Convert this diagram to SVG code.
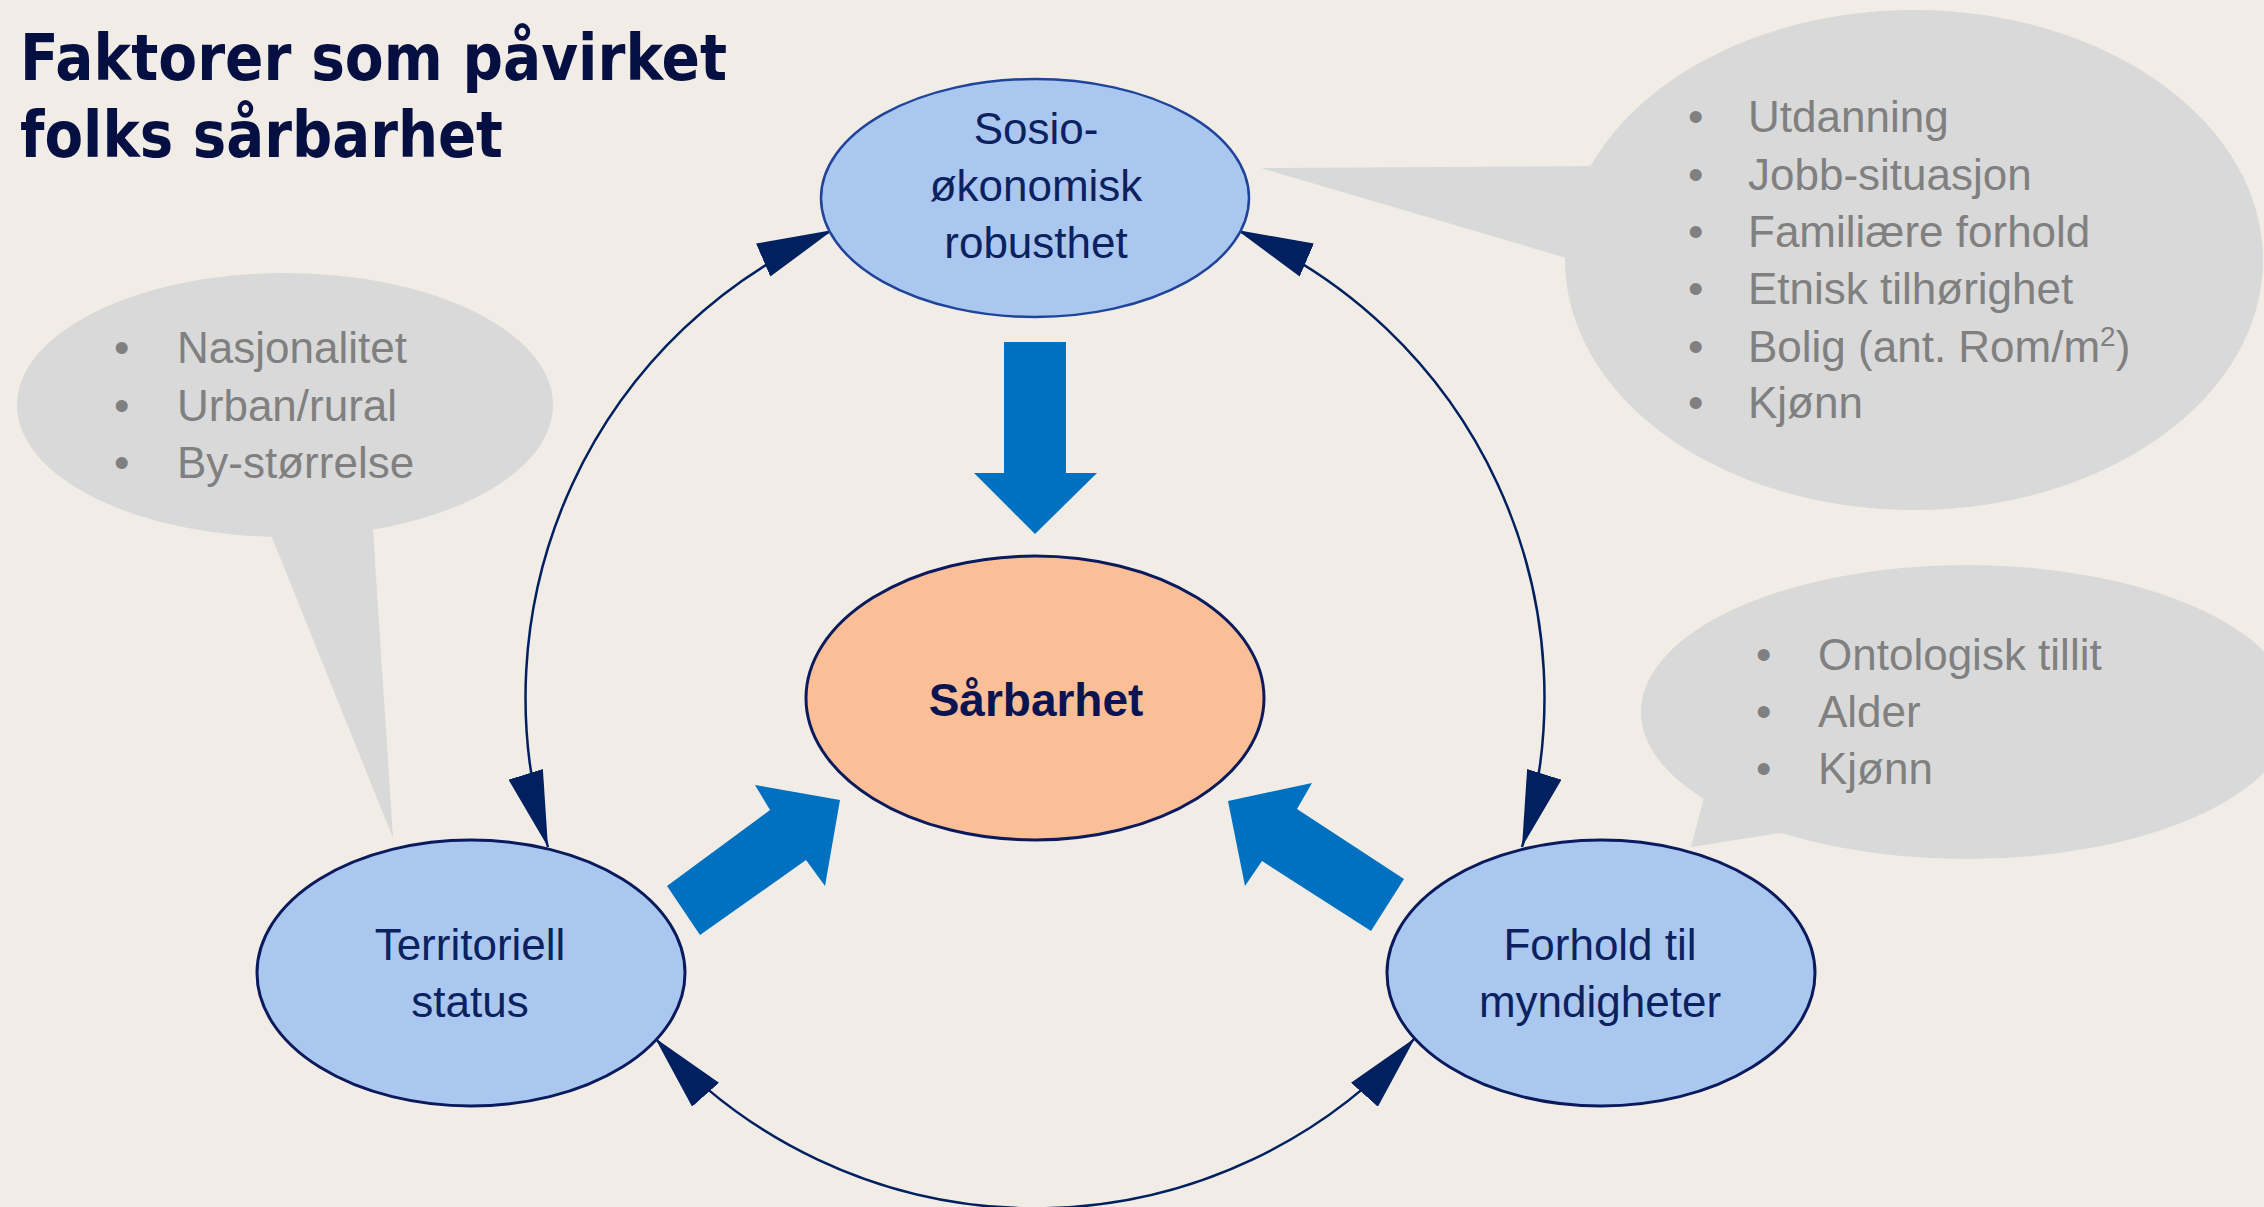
<svg xmlns="http://www.w3.org/2000/svg" width="2264" height="1207" viewBox="0 0 2264 1207">
<style>
.title{font-family:"DejaVu Sans","Liberation Sans",sans-serif;font-weight:bold;font-size:64px;fill:#060F42}
.node{font-family:"Liberation Sans","Noto Sans",sans-serif;font-size:44px;fill:#0B2160;text-anchor:middle}
.core{font-family:"Liberation Sans","Noto Sans",sans-serif;font-size:46px;font-weight:bold;fill:#0A1450;text-anchor:middle}
.bub{fill:#D9D9D9}
.bt{font-family:"Liberation Sans","Noto Sans",sans-serif;font-size:44px;fill:#808080}
.blue{fill:#AAC8EF}
.arc{fill:none;stroke:#002060;stroke-width:2.5;marker-start:url(#ah);marker-end:url(#ah)}
.block{fill:#0070C0}
</style>
<defs>
<marker id="ah" markerUnits="userSpaceOnUse" viewBox="0 -18 76 36" refX="76" refY="0" markerWidth="76" markerHeight="36" orient="auto-start-reverse">
<path d="M0,-18 L76,0 L0,18 Z" fill="#002060"/>
</marker>
</defs>
<rect width="2264" height="1207" fill="#F1EDE6"/>
<g id="title">
<text class="title" x="20" y="80" textLength="707" lengthAdjust="spacingAndGlyphs">Faktorer som påvirket</text>
<text class="title" x="20" y="157" textLength="483" lengthAdjust="spacingAndGlyphs">folks sårbarhet</text>
</g>
<g id="bubble-territorial">
<ellipse class="bub" cx="285" cy="405" rx="268" ry="132"/>
<polygon class="bub" points="265,520 372,515 393,838"/>
<text class="bt" x="114" y="363">•</text><text class="bt" x="177" y="363">Nasjonalitet</text>
<text class="bt" x="114" y="421">•</text><text class="bt" x="177" y="421">Urban/rural</text>
<text class="bt" x="114" y="478">•</text><text class="bt" x="177" y="478">By-størrelse</text>
</g>
<g id="bubble-socio">
<ellipse class="bub" cx="1914" cy="260" rx="349" ry="250"/>
<polygon class="bub" points="1600,166 1261,168 1580,262"/>
<text class="bt" x="1688" y="132">•</text><text class="bt" x="1748" y="132">Utdanning</text>
<text class="bt" x="1688" y="190">•</text><text class="bt" x="1748" y="190">Jobb-situasjon</text>
<text class="bt" x="1688" y="247">•</text><text class="bt" x="1748" y="247">Familiære forhold</text>
<text class="bt" x="1688" y="304">•</text><text class="bt" x="1748" y="304">Etnisk tilhørighet</text>
<text class="bt" x="1688" y="362">•</text><text class="bt" x="1748" y="362">Bolig (ant. Rom/m<tspan font-size="28" dy="-16">2</tspan><tspan dy="16">)</tspan></text>
<text class="bt" x="1688" y="418">•</text><text class="bt" x="1748" y="418">Kjønn</text>
</g>
<g id="bubble-authority">
<ellipse class="bub" cx="1967" cy="712" rx="326" ry="147"/>
<polygon class="bub" points="1706,790 1691,847 1800,830"/>
<text class="bt" x="1756" y="670">•</text><text class="bt" x="1818" y="670">Ontologisk tillit</text>
<text class="bt" x="1756" y="727">•</text><text class="bt" x="1818" y="727">Alder</text>
<text class="bt" x="1756" y="784">•</text><text class="bt" x="1818" y="784">Kjønn</text>
</g>
<g id="connectors">
<path class="arc" d="M833,230 A509,509 0 0 0 548,847"/>
<path class="arc" d="M1237,230 A509,509 0 0 1 1522,847"/>
<path class="arc" d="M655,1038 A509,509 0 0 0 1415,1038"/>
<polygon class="block" points="1004,342 1066,342 1066,473 1097,473 1035,534 974,473 1004,473"/>
<polygon class="block" points="667,886 770,810 755,785 840,800 825,886 806,860 700,935"/>
<polygon class="block" points="1404,879 1297,809 1312,783 1228,801 1245,886 1262,861 1371,931"/>
</g>
<g id="node-socio">
<ellipse class="blue" cx="1035" cy="198" rx="214" ry="119" stroke="#1F449A" stroke-width="2.5"/>
<text class="node" x="1036" y="144">Sosio-</text>
<text class="node" x="1036" y="201">økonomisk</text>
<text class="node" x="1036" y="258">robusthet</text>
</g>
<g id="node-core">
<ellipse cx="1035" cy="698" rx="229" ry="142" fill="#FBBF98" stroke="#0A1A5C" stroke-width="3"/>
<text class="core" x="1036" y="716">Sårbarhet</text>
</g>
<g id="node-territorial">
<ellipse class="blue" cx="471" cy="973" rx="214" ry="133" stroke="#0A1A5C" stroke-width="3"/>
<text class="node" x="470" y="960">Territoriell</text>
<text class="node" x="470" y="1017">status</text>
</g>
<g id="node-authority">
<ellipse class="blue" cx="1601" cy="973" rx="214" ry="133" stroke="#0A1A5C" stroke-width="3"/>
<text class="node" x="1600" y="960">Forhold til</text>
<text class="node" x="1600" y="1017">myndigheter</text>
</g>
</svg>
